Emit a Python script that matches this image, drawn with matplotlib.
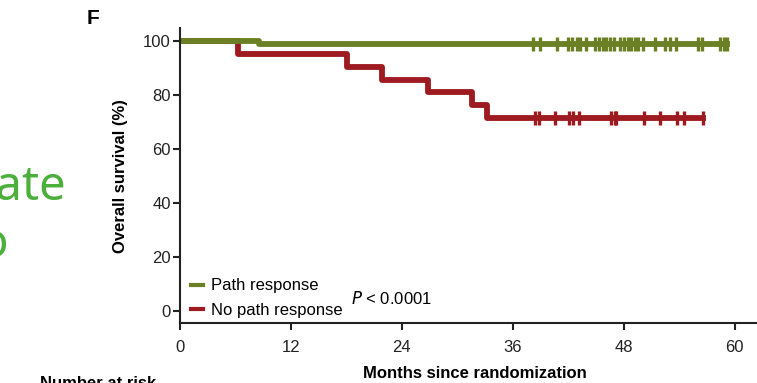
import matplotlib.pyplot as plt
from matplotlib.lines import Line2D

plt.rcParams['font.family'] = ['Liberation Sans', 'DejaVu Sans']

# Kaplan-Meier steps (months, % surviving)
resp_times = [0, 8.5, 59.2]
resp_surv = [100, 98.8, 98.8]
resp_censor = [38.2, 38.9, 40.8, 42.0, 42.4, 42.9, 43.3, 43.9, 44.9, 45.3,
               45.7, 46.1, 46.5, 46.9, 47.6, 48.0, 48.4, 48.8, 49.2, 49.5,
               50.1, 51.4, 52.4, 53.0, 53.6, 56.0, 56.5, 58.4, 58.8, 59.2]

nores_times = [0, 6.3, 18.1, 21.8, 26.8, 31.6, 33.2, 56.6]
nores_surv = [100, 95.2, 90.5, 85.7, 81.0, 76.2, 71.4, 71.4]
nores_censor = [38.4, 38.8, 40.5, 42.1, 42.5, 43.2, 46.6, 47.0, 47.2,
                50.2, 51.9, 53.8, 54.5, 56.6]

xticks = [0, 12, 24, 36, 48, 60]
yticks = [0, 20, 40, 60, 80, 100]

green = '#6b8024'
red = '#9d1b20'

fig = plt.figure(figsize=(7.57, 3.83), dpi=100)
ax = fig.add_axes([0.2378, 0.1567, 0.7622, 0.7703])

# red first so green sits on top at 100%
ax.step(nores_times, nores_surv, where='post', color=red, lw=4.2,
        solid_joinstyle='round')
ax.plot(nores_censor, [nores_surv[-1]] * len(nores_censor), ls='none',
        marker='|', ms=10.5, mew=2.4, color=red)
ax.step(resp_times, resp_surv, where='post', color=green, lw=4.2,
        solid_joinstyle='round')
ax.plot(resp_censor, [resp_surv[-1]] * len(resp_censor), ls='none',
        marker='|', ms=10.5, mew=2.4, color=green)

ax.set_xlim(0, 62.4)
ax.set_ylim(-4.4, 104.8)
ax.set_xticks(xticks)
ax.set_yticks(yticks)
ax.tick_params(axis='both', labelsize=12, width=1.5, length=5, colors='#222222')
ax.tick_params(axis='x', pad=7)
ax.tick_params(axis='y', pad=1.5)
for s in ['top', 'right']:
    ax.spines[s].set_visible(False)
for s in ['left', 'bottom']:
    ax.spines[s].set_linewidth(1.5)
    ax.spines[s].set_color('#222222')

handles = [Line2D([], [], color=green, lw=3),
           Line2D([], [], color=red, lw=3)]
ax.legend(handles, ['Path response', 'No path response'], loc='lower left',
          bbox_to_anchor=(0.005, -0.01), frameon=False, fontsize=12,
          handlelength=0.7, handletextpad=0.5, labelspacing=0.55,
          borderaxespad=0.1)
ax.text(351 / 757, 1 - 298 / 383, '$P$ < 0.0001', transform=fig.transFigure,
        fontsize=12, va='center', ha='left')

fig.text(475 / 757, 1 - 374 / 383, 'Months since randomization',
         fontsize=12, fontweight='bold', ha='center', va='center')
fig.text(120 / 757, 1 - 176 / 383, 'Overall survival (%)', rotation=90,
         fontsize=12, fontweight='bold', ha='center', va='center')
fig.text(87 / 757, 1 - 19 / 383, 'F', fontsize=15, fontweight='bold',
         ha='left', va='center')
fig.text(40 / 757, 1 - 376 / 383, 'Number at risk', fontsize=12,
         fontweight='bold', ha='left', va='top')

# cropped neighbouring panel text
fig.text(66 / 757, 1 - 200 / 383, 'rate', fontsize=34, color='#4caf3c',
         family='Noto Sans', ha='right', va='baseline')
fig.text(8 / 757, 1 - 257 / 383, 'o', fontsize=34, color='#4caf3c',
         family='Noto Sans', ha='right', va='baseline')

fig.savefig('out.png', dpi=100)
